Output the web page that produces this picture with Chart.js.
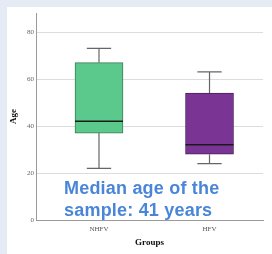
<!DOCTYPE html>
<html>
<head>
<meta charset="utf-8">
<script src="https://cdn.jsdelivr.net/npm/chart.js@4.4.0/dist/chart.umd.min.js"></script>
<style>
    body { margin: 0; background: #e4ebf5; width: 272px; height: 254px; overflow: hidden; }
    #panel { position: absolute; left: 7px; top: 7px; width: 265px; height: 247px; background: #ffffff; }
    #chart { position: absolute; left: 0; top: 0; }
    #note {
        position: absolute; left: 64px; top: 177px;
        font-family: "Liberation Sans", Arial, sans-serif; font-weight: bold;
        font-size: 18px; line-height: 22px; letter-spacing: 0.2px; color: #4a86d8; white-space: nowrap;
    }
</style>
</head>
<body>
<div id="panel"><canvas id="chart" width="265" height="247"></canvas></div>
<div id="note">Median age of the<br>sample: 41 years</div>
<script>
// Box plot values
const groups = ['NHFV', 'HFV'];
const whiskerLow = [22, 24];
const q1 = [37, 28];
const median = [42, 32];
const q3 = [67, 54];
const whiskerHigh = [73, 63];
const yTicks = [0, 20, 40, 60, 80];

const fills = ['#5bc98b', '#7a3594'];
const borders = ['#3d7a57', '#4a1f5c'];

const capHalf = 0.11;
const boxHalf = 0.217;

const datasets = [{
    type: 'bar',
    data: groups.map((g, i) => ({ x: i + 1, y: [q1[i], q3[i]] })),
    backgroundColor: fills,
    borderColor: borders,
    borderWidth: 1,
    borderSkipped: false,
    barThickness: 48,
    grouped: false,
    order: 2
}];

// whiskers, caps and medians as line segments
function seg(points, color, width) {
    datasets.push({
        type: 'line',
        data: points,
        borderColor: color,
        borderWidth: width,
        pointRadius: 0,
        fill: false,
        order: 1
    });
}

groups.forEach((g, i) => {
    const x = i + 1;
    seg([{ x: x, y: q3[i] }, { x: x, y: whiskerHigh[i] }], '#666666', 1.2);
    seg([{ x: x, y: whiskerLow[i] }, { x: x, y: q1[i] }], '#666666', 1.2);
    seg([{ x: x - capHalf, y: whiskerHigh[i] }, { x: x + capHalf, y: whiskerHigh[i] }], '#666666', 1.2);
    seg([{ x: x - capHalf, y: whiskerLow[i] }, { x: x + capHalf, y: whiskerLow[i] }], '#666666', 1.2);
    seg([{ x: x - boxHalf, y: median[i] }, { x: x + boxHalf, y: median[i] }], '#1a1a1a', 1.5);
});

new Chart(document.getElementById('chart').getContext('2d'), {
    data: { datasets: datasets },
    options: {
        responsive: false,
        animation: false,
        layout: { padding: { top: 6, right: 9, left: 0, bottom: 0 } },
        plugins: { legend: { display: false }, tooltip: { enabled: false } },
        scales: {
            x: {
                type: 'linear',
                offset: false,
                min: 0.43,
                max: 2.484,
                afterBuildTicks: function (scale) {
                    scale.ticks = groups.map((g, i) => ({ value: i + 1 }));
                },
                afterFit: function (scale) { scale.height = 34; },
                ticks: {
                    padding: 5,
                    callback: function (value) { return groups[value - 1]; },
                    font: { family: '"Liberation Serif", "Times New Roman", serif', size: 7 },
                    color: '#555555'
                },
                grid: { display: false, drawTicks: false },
                border: { display: true, color: '#9a9a9a' },
                title: {
                    display: true,
                    text: 'Groups',
                    font: { family: '"Liberation Serif", "Times New Roman", serif', size: 9, weight: 'bold' },
                    color: '#111111',
                    padding: { top: 0, bottom: 6 }
                }
            },
            y: {
                min: 0,
                max: 88,
                afterBuildTicks: function (scale) {
                    scale.ticks = yTicks.map(v => ({ value: v }));
                },
                afterFit: function (scale) { scale.width = 29; },
                ticks: {
                    padding: 2,
                    font: { family: '"Liberation Serif", "Times New Roman", serif', size: 7 },
                    color: '#666666'
                },
                grid: { color: '#dcdcdc', drawTicks: false },
                border: { display: true, color: '#9a9a9a' },
                title: {
                    display: true,
                    text: 'Age',
                    font: { family: '"Liberation Serif", "Times New Roman", serif', size: 9, weight: 'bold' },
                    color: '#111111',
                    padding: { top: 1.5, bottom: 0 }
                }
            }
        }
    }
});
</script>
</body>
</html>
